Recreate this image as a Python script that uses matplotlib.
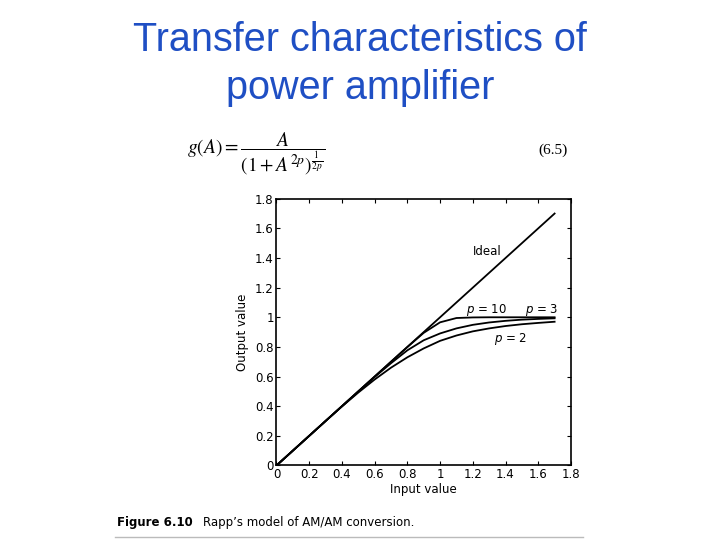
import numpy as np
import matplotlib.pyplot as plt

# values (input amplitude vs output amplitude)
input_value = [0.0, 0.1, 0.2, 0.3, 0.4, 0.5, 0.6, 0.7, 0.8, 0.9, 1.0,
               1.1, 1.2, 1.3, 1.4, 1.5, 1.6, 1.7]
ideal = [0.0, 0.1, 0.2, 0.3, 0.4, 0.5, 0.6, 0.7, 0.8, 0.9, 1.0,
         1.1, 1.2, 1.3, 1.4, 1.5, 1.6, 1.7]
p10 = [0.0, 0.1, 0.2, 0.3, 0.4, 0.5, 0.6, 0.7, 0.799, 0.895, 0.966,
       0.995, 0.999, 1.0, 1.0, 1.0, 1.0, 1.0]
p3 = [0.0, 0.1, 0.2, 0.3, 0.4, 0.499, 0.597, 0.69, 0.777, 0.845, 0.891,
      0.925, 0.949, 0.965, 0.976, 0.984, 0.989, 0.993]
p2 = [0.0, 0.1, 0.2, 0.3, 0.398, 0.492, 0.58, 0.66, 0.73, 0.79, 0.841,
      0.877, 0.905, 0.925, 0.941, 0.953, 0.962, 0.97]

ticks = [0, 0.2, 0.4, 0.6, 0.8, 1, 1.2, 1.4, 1.6, 1.8]
tick_labels = ["0", "0.2", "0.4", "0.6", "0.8", "1", "1.2", "1.4", "1.6", "1.8"]


def main():
    fig = plt.figure(figsize=(7.2, 5.4), dpi=100)

    # slide title
    fig.text(0.5, 0.882, "Transfer characteristics of\npower amplifier",
             ha="center", va="center", color="#1f4fc4", fontsize=28.5,
             family="Liberation Sans", linespacing=1.32)

    # equation line
    fig.text(0.26, 0.716,
             r"$g(A)=\dfrac{A}{\left(1+A^{2p}\right)^{\frac{1}{2p}}}$",
             fontsize=14, ha="left", va="center", math_fontfamily="stix")
    fig.text(0.748, 0.722, "(6.5)", fontsize=11, family="Liberation Serif",
             ha="left", va="center")

    ax = fig.add_axes([0.384, 0.138, 0.409, 0.494])
    for y in (ideal, p10, p3, p2):
        ax.plot(input_value, y, color="black", lw=1.3)

    ax.set_xlim(0, 1.8)
    ax.set_ylim(0, 1.8)
    ax.set_xticks(ticks)
    ax.set_xticklabels(tick_labels)
    ax.set_yticks(ticks)
    ax.set_yticklabels(tick_labels)
    ax.tick_params(direction="in", top=True, right=True, length=3,
                   labelsize=8.5, pad=2)
    for s in ax.spines.values():
        s.set_linewidth(1.2)
    ax.set_xlabel("Input value", fontsize=8.5, labelpad=1)
    ax.set_ylabel("Output value", fontsize=8.5, labelpad=4)

    ax.text(1.2, 1.42, "Ideal", fontsize=8.5)
    ax.text(1.16, 1.03, r"$p$ = 10", fontsize=8.5)
    ax.text(1.52, 1.03, r"$p$ = 3", fontsize=8.5)
    ax.text(1.33, 0.83, r"$p$ = 2", fontsize=8.5)

    # figure caption
    fig.text(0.163, 0.032, "Figure 6.10", fontsize=8.5, weight="bold",
             ha="left", va="center")
    fig.text(0.282, 0.032, "Rapp\u2019s model of AM/AM conversion.",
             fontsize=8.5, ha="left", va="center")
    fig.add_artist(plt.Line2D([0.16, 0.81], [0.006, 0.006], color="#bbbbbb",
                              lw=1, transform=fig.transFigure))

    fig.savefig("out.png", dpi=100)


if __name__ == "__main__":
    main()
